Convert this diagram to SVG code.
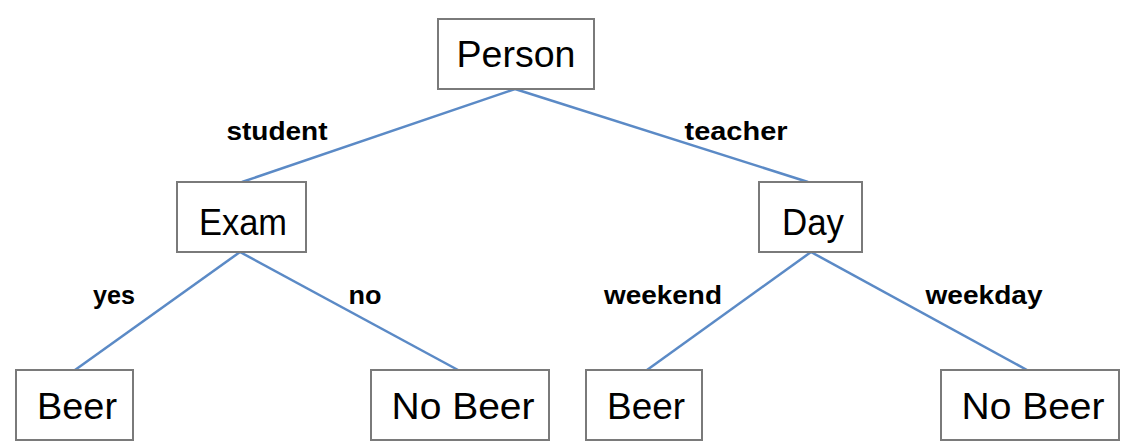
<svg xmlns="http://www.w3.org/2000/svg" width="1126" height="448" viewBox="0 0 1126 448">
<style>
.box{fill:#fff;stroke:#7a7a7a;stroke-width:2}
.nt{font-family:"Liberation Sans",Arial,sans-serif;font-size:37px;fill:#000;text-anchor:middle}
.lt{font-family:"Liberation Sans",Arial,sans-serif;font-size:26px;font-weight:bold;fill:#000;text-anchor:middle}
.edge{stroke:#5b8ac6;stroke-width:2.5;fill:none}
</style>
<rect width="1126" height="448" fill="#fff"/>
<g id="connectors">
<line class="edge" x1="515" y1="89" x2="242" y2="182"/>
<line class="edge" x1="515" y1="89" x2="808" y2="182"/>
<line class="edge" x1="240" y1="252" x2="75" y2="370"/>
<line class="edge" x1="240" y1="252" x2="458" y2="370"/>
<line class="edge" x1="811" y1="252" x2="647" y2="370"/>
<line class="edge" x1="811" y1="252" x2="1027" y2="370"/>
<text class="lt" x="277" y="140" textLength="101" lengthAdjust="spacingAndGlyphs">student</text>
<text class="lt" x="736" y="140" textLength="103" lengthAdjust="spacingAndGlyphs">teacher</text>
<text class="lt" x="114" y="304" textLength="42" lengthAdjust="spacingAndGlyphs">yes</text>
<text class="lt" x="365" y="304" textLength="33" lengthAdjust="spacingAndGlyphs">no</text>
<text class="lt" x="663" y="304" textLength="118" lengthAdjust="spacingAndGlyphs">weekend</text>
<text class="lt" x="984" y="304" textLength="117" lengthAdjust="spacingAndGlyphs">weekday</text>
</g>
<g id="person"><rect class="box" x="438" y="19" width="156" height="70"/><text class="nt" x="516" y="67" textLength="119" lengthAdjust="spacingAndGlyphs">Person</text></g>
<g id="exam"><rect class="box" x="177" y="182" width="129" height="70"/><text class="nt" x="243" y="235" textLength="88" lengthAdjust="spacingAndGlyphs">Exam</text></g>
<g id="day"><rect class="box" x="759" y="182" width="103" height="70"/><text class="nt" x="813" y="235" textLength="62" lengthAdjust="spacingAndGlyphs">Day</text></g>
<g id="beer1"><rect class="box" x="16" y="370" width="117" height="70"/><text class="nt" x="77" y="419" textLength="80" lengthAdjust="spacingAndGlyphs">Beer</text></g>
<g id="nobeer1"><rect class="box" x="371" y="370" width="178" height="70"/><text class="nt" x="463" y="419" textLength="143" lengthAdjust="spacingAndGlyphs">No Beer</text></g>
<g id="beer2"><rect class="box" x="586" y="370" width="116" height="70"/><text class="nt" x="646" y="419" textLength="78" lengthAdjust="spacingAndGlyphs">Beer</text></g>
<g id="nobeer2"><rect class="box" x="941" y="370" width="178" height="70"/><text class="nt" x="1033" y="419" textLength="143" lengthAdjust="spacingAndGlyphs">No Beer</text></g>
</svg>
